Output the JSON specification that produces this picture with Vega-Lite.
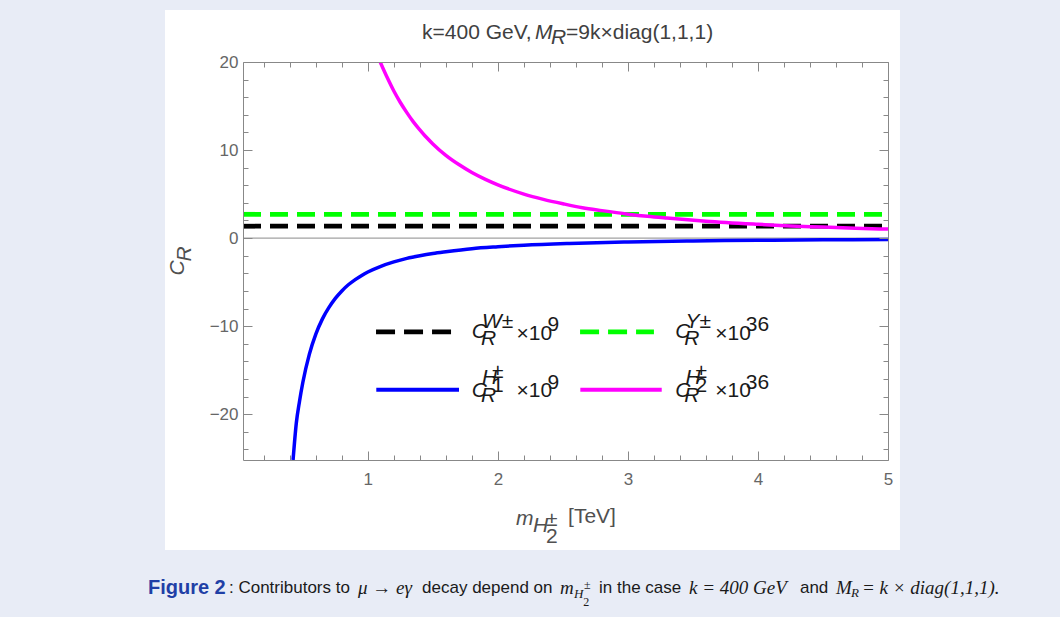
{
  "$schema": "https://vega.github.io/schema/vega-lite/v6.json",
  "width": 645,
  "height": 398,
  "autosize": {"type": "none"},
  "padding": {"left": 243, "top": 62, "right": 172, "bottom": 157},
  "background": "#e8ecf6",
  "config": {"view": {"stroke": null}, "axis": {"grid": false}},
  "datasets": {
    "panel": [{"x1": -0.56, "x2": 5.092, "y1": 25.906, "y2": -35.42}],
    "zero": [{"x1": 0.04, "x2": 5, "y": 0}],
    "curves": [
      {"series": "W", "m": 0.04, "v": 1.35}, {"series": "W", "m": 5, "v": 1.35},
      {"series": "Y", "m": 0.04, "v": 2.7}, {"series": "Y", "m": 5, "v": 2.7},
      {"series": "H1", "m": 0.425, "v": -25.2}, {"series": "H1", "m": 0.45, "v": -21.0},
      {"series": "H1", "m": 0.475, "v": -18.5}, {"series": "H1", "m": 0.5, "v": -16.4},
      {"series": "H1", "m": 0.55, "v": -13.2}, {"series": "H1", "m": 0.6, "v": -10.9},
      {"series": "H1", "m": 0.65, "v": -9.2}, {"series": "H1", "m": 0.7, "v": -7.9},
      {"series": "H1", "m": 0.75, "v": -6.85}, {"series": "H1", "m": 0.8, "v": -6.0},
      {"series": "H1", "m": 0.85, "v": -5.3}, {"series": "H1", "m": 0.9, "v": -4.75},
      {"series": "H1", "m": 0.95, "v": -4.27}, {"series": "H1", "m": 1.0, "v": -3.85},
      {"series": "H1", "m": 1.1, "v": -3.2}, {"series": "H1", "m": 1.2, "v": -2.7},
      {"series": "H1", "m": 1.3, "v": -2.3}, {"series": "H1", "m": 1.4, "v": -2.0},
      {"series": "H1", "m": 1.5, "v": -1.75}, {"series": "H1", "m": 1.6, "v": -1.55},
      {"series": "H1", "m": 1.8, "v": -1.2}, {"series": "H1", "m": 2.0, "v": -0.98},
      {"series": "H1", "m": 2.2, "v": -0.8}, {"series": "H1", "m": 2.55, "v": -0.6},
      {"series": "H1", "m": 3.0, "v": -0.44}, {"series": "H1", "m": 3.5, "v": -0.32},
      {"series": "H1", "m": 4.0, "v": -0.25}, {"series": "H1", "m": 4.5, "v": -0.2},
      {"series": "H1", "m": 5.0, "v": -0.16},
      {"series": "H2", "m": 1.095, "v": 20.0}, {"series": "H2", "m": 1.15, "v": 18.2},
      {"series": "H2", "m": 1.2, "v": 16.7}, {"series": "H2", "m": 1.25, "v": 15.4},
      {"series": "H2", "m": 1.3, "v": 14.25}, {"series": "H2", "m": 1.35, "v": 13.2},
      {"series": "H2", "m": 1.4, "v": 12.3}, {"series": "H2", "m": 1.45, "v": 11.45},
      {"series": "H2", "m": 1.5, "v": 10.7}, {"series": "H2", "m": 1.6, "v": 9.4},
      {"series": "H2", "m": 1.7, "v": 8.35}, {"series": "H2", "m": 1.8, "v": 7.45},
      {"series": "H2", "m": 1.9, "v": 6.7}, {"series": "H2", "m": 2.0, "v": 6.05},
      {"series": "H2", "m": 2.2, "v": 5.0}, {"series": "H2", "m": 2.35, "v": 4.4},
      {"series": "H2", "m": 2.5, "v": 3.9}, {"series": "H2", "m": 2.65, "v": 3.45},
      {"series": "H2", "m": 2.8, "v": 3.12}, {"series": "H2", "m": 3.0, "v": 2.72},
      {"series": "H2", "m": 3.15, "v": 2.47}, {"series": "H2", "m": 3.3, "v": 2.27},
      {"series": "H2", "m": 3.6, "v": 1.92}, {"series": "H2", "m": 4.0, "v": 1.57},
      {"series": "H2", "m": 4.25, "v": 1.38}, {"series": "H2", "m": 4.5, "v": 1.25},
      {"series": "H2", "m": 4.75, "v": 1.12}, {"series": "H2", "m": 5.0, "v": 1.02}
    ],
    "legend": [
      {"series": "W", "x1": 1.063, "x2": 1.64, "y": -10.66},
      {"series": "Y", "x1": 2.632, "x2": 3.2, "y": -10.66},
      {"series": "H1", "x1": 1.065, "x2": 1.701, "y": -17.22},
      {"series": "H2", "x1": 2.634, "x2": 3.26, "y": -17.22}
    ],
    "texts": [
      {"k": "tn", "t": "k=400 GeV,", "x": 1.417, "y": 23.29},
      {"k": "ti", "t": "M", "x": 2.286, "y": 23.29},
      {"k": "ts", "t": "R", "x": 2.409, "y": 22.7},
      {"k": "tn", "t": "=9k×diag(1,1,1)", "x": 2.524, "y": 23.29},
      {"k": "xi", "t": "m", "x": 2.139, "y": -31.9},
      {"k": "xs", "t": "H", "x": 2.27, "y": -32.7},
      {"k": "xn", "t": "±", "x": 2.37, "y": -32.02},
      {"k": "xn", "t": "2", "x": 2.37, "y": -33.95},
      {"k": "xt", "t": "[TeV]", "x": 2.54, "y": -31.68},
      {"k": "yi", "t": "C", "x": -0.46, "y": -3.4},
      {"k": "ys", "t": "R", "x": -0.406, "y": -1.81},
      {"k": "lc", "t": "C", "x": 1.8, "y": -10.66},
      {"k": "ls", "t": "R", "x": 1.87, "y": -11.46},
      {"k": "ls", "t": "W±", "x": 1.878, "y": -9.53},
      {"k": "ln", "t": "×10", "x": 2.144, "y": -10.86},
      {"k": "le", "t": "9", "x": 2.382, "y": -9.9},
      {"k": "lc", "t": "C", "x": 3.364, "y": -10.66},
      {"k": "ls", "t": "R", "x": 3.434, "y": -11.46},
      {"k": "ls", "t": "Y±", "x": 3.442, "y": -9.53},
      {"k": "ln", "t": "×10", "x": 3.672, "y": -10.86},
      {"k": "le", "t": "36", "x": 3.907, "y": -9.9},
      {"k": "lc", "t": "C", "x": 1.8, "y": -17.41},
      {"k": "ls", "t": "R", "x": 1.87, "y": -17.93},
      {"k": "ls", "t": "H", "x": 1.878, "y": -15.89},
      {"k": "le", "t": "±", "x": 1.955, "y": -15.21},
      {"k": "le", "t": "1", "x": 1.955, "y": -16.85},
      {"k": "ln", "t": "×10", "x": 2.144, "y": -17.32},
      {"k": "le", "t": "9", "x": 2.382, "y": -16.45},
      {"k": "lc", "t": "C", "x": 3.364, "y": -17.41},
      {"k": "ls", "t": "R", "x": 3.434, "y": -17.93},
      {"k": "ls", "t": "H", "x": 3.442, "y": -15.89},
      {"k": "le", "t": "±", "x": 3.519, "y": -15.21},
      {"k": "le", "t": "2", "x": 3.519, "y": -16.85},
      {"k": "ln", "t": "×10", "x": 3.672, "y": -17.32},
      {"k": "le", "t": "36", "x": 3.907, "y": -16.45},
      {"k": "cb", "t": "Figure 2", "x": -0.691, "y": -39.74},
      {"k": "cn", "t": ": Contributors to", "x": -0.068, "y": -39.74},
      {"k": "ci", "t": "μ → eγ", "x": 0.924, "y": -39.74},
      {"k": "cn", "t": "decay depend on", "x": 1.417, "y": -39.74},
      {"k": "ci", "t": "m", "x": 2.478, "y": -39.74},
      {"k": "cs", "t": "H", "x": 2.585, "y": -40.42},
      {"k": "csn", "t": "±", "x": 2.662, "y": -39.4},
      {"k": "csn", "t": "2", "x": 2.657, "y": -41.33},
      {"k": "cn", "t": "in the case", "x": 2.778, "y": -39.74},
      {"k": "ci", "t": "k = 400 GeV", "x": 3.47, "y": -39.74},
      {"k": "cn", "t": "and", "x": 4.323, "y": -39.74},
      {"k": "ci", "t": "M", "x": 4.6, "y": -39.74},
      {"k": "cs", "t": "R", "x": 4.715, "y": -40.31},
      {"k": "ci", "t": "= k × diag(1,1,1).", "x": 4.8, "y": -39.74}
    ]
  },
  "resolve": {"axis": {"x": "independent", "y": "independent"}},
  "layer": [
    {
      "data": {"name": "panel"},
      "mark": {"type": "rect", "fill": "#ffffff"},
      "encoding": {
        "x": {"field": "x1", "type": "quantitative", "axis": null},
        "x2": {"field": "x2"},
        "y": {"field": "y1", "type": "quantitative", "axis": null},
        "y2": {"field": "y2"}
      }
    },
    {
      "data": {"name": "zero"},
      "mark": {"type": "rule", "stroke": "#8a8a8a", "strokeWidth": 1},
      "encoding": {
        "x": {"field": "x1", "type": "quantitative", "axis": null},
        "x2": {"field": "x2"},
        "y": {"field": "y", "type": "quantitative", "axis": null}
      }
    },
    {
      "data": {"name": "curves"},
      "transform": [{"filter": "datum.series === 'W' || datum.series === 'Y'"}],
      "mark": {"type": "line", "strokeWidth": 4.8, "strokeDash": [18, 9], "clip": true},
      "encoding": {
        "x": {"field": "m", "type": "quantitative",
          "scale": {"domain": [0.04, 5], "nice": false, "zero": false},
          "axis": {"orient": "top", "title": null, "labels": false, "zindex": 1,
            "values": [0.2,0.4,0.6,0.8,1,1.2,1.4,1.6,1.8,2,2.2,2.4,2.6,2.8,3,3.2,3.4,3.6,3.8,4,4.2,4.4,4.6,4.8,5],
            "tickSize": {"condition": {"test": "datum.value % 1 === 0", "value": -9}, "value": -5},
            "domainColor": "#888888", "tickColor": "#888888", "grid": false}},
        "y": {"field": "v", "type": "quantitative",
          "scale": {"domain": [-25.2, 20], "nice": false, "zero": false},
          "axis": {"orient": "right", "title": null, "labels": false, "zindex": 1,
            "values": [-24,-22,-20,-18,-16,-14,-12,-10,-8,-6,-4,-2,0,2,4,6,8,10,12,14,16,18,20],
            "tickSize": {"condition": {"test": "datum.value % 10 === 0", "value": -9}, "value": -5},
            "domainColor": "#888888", "tickColor": "#888888", "grid": false}},
        "color": {"field": "series", "type": "nominal", "legend": null,
          "scale": {"domain": ["W","Y","H1","H2","tn","ti","ts","xi","xs","xn","xt","yi","ys","lc","ls","ln","le","cb","cn","ci","cs","csn"],
            "range": ["#000000","#00ff00","#0000ff","#ff00ff","#404040","#404040","#404040","#505050","#505050","#505050","#505050","#505050","#505050","#1a1a1a","#1a1a1a","#1a1a1a","#1a1a1a","#1f3fa6","#1a1a1a","#1a1a1a","#1a1a1a","#1a1a1a"]}}
      }
    },
    {
      "data": {"name": "curves"},
      "transform": [{"filter": "datum.series === 'H1' || datum.series === 'H2'"}],
      "mark": {"type": "line", "strokeWidth": 3.5, "clip": true, "interpolate": "monotone"},
      "encoding": {
        "x": {"field": "m", "type": "quantitative",
          "scale": {"domain": [0.04, 5], "nice": false, "zero": false},
          "axis": {"orient": "bottom", "title": null, "zindex": 1,
            "values": [0.2,0.4,0.6,0.8,1,1.2,1.4,1.6,1.8,2,2.2,2.4,2.6,2.8,3,3.2,3.4,3.6,3.8,4,4.2,4.4,4.6,4.8,5],
            "labelExpr": "datum.value % 1 === 0 ? format(datum.value, 'd') : ''",
            "tickSize": {"condition": {"test": "datum.value % 1 === 0", "value": -9}, "value": -5},
            "labelPadding": 20, "labelFontSize": 17, "labelFont": "Liberation Sans", "labelColor": "#666666",
            "labelFlush": false, "labelOverlap": false, "labelBound": false,
            "domainColor": "#888888", "tickColor": "#888888", "grid": false}},
        "y": {"field": "v", "type": "quantitative",
          "scale": {"domain": [-25.2, 20], "nice": false, "zero": false},
          "axis": {"orient": "left", "title": null, "zindex": 1,
            "values": [-24,-22,-20,-18,-16,-14,-12,-10,-8,-6,-4,-2,0,2,4,6,8,10,12,14,16,18,20],
            "labelExpr": "datum.value % 10 === 0 ? datum.label : ''",
            "tickSize": {"condition": {"test": "datum.value % 10 === 0", "value": -9}, "value": -5},
            "labelPadding": 14, "labelFontSize": 17, "labelFont": "Liberation Sans", "labelColor": "#666666",
            "labelFlush": false, "labelOverlap": false, "labelBound": false,
            "domainColor": "#888888", "tickColor": "#888888", "grid": false}},
        "color": {"field": "series", "type": "nominal", "legend": null}
      }
    },
    {
      "data": {"name": "legend"},
      "transform": [{"filter": "datum.series === 'W' || datum.series === 'Y'"}],
      "mark": {"type": "rule", "strokeWidth": 4.8, "strokeDash": [19, 9]},
      "encoding": {
        "x": {"field": "x1", "type": "quantitative", "axis": null},
        "x2": {"field": "x2"},
        "y": {"field": "y", "type": "quantitative", "axis": null},
        "color": {"field": "series", "type": "nominal", "legend": null}
      }
    },
    {
      "data": {"name": "legend"},
      "transform": [{"filter": "datum.series === 'H1' || datum.series === 'H2'"}],
      "mark": {"type": "rule", "strokeWidth": 4},
      "encoding": {
        "x": {"field": "x1", "type": "quantitative", "axis": null},
        "x2": {"field": "x2"},
        "y": {"field": "y", "type": "quantitative", "axis": null},
        "color": {"field": "series", "type": "nominal", "legend": null}
      }
    },
    {
      "data": {"name": "texts"},
      "transform": [{"filter": "indexof(['tn','xn','xt','ln','le'], datum.k) >= 0"}],
      "mark": {"type": "text", "font": "Liberation Sans", "align": "left", "baseline": "middle"},
      "encoding": {
        "x": {"field": "x", "type": "quantitative", "axis": null},
        "y": {"field": "y", "type": "quantitative", "axis": null},
        "text": {"field": "t"},
        "color": {"field": "k", "type": "nominal", "legend": null},
        "size": {"field": "k", "type": "nominal", "legend": null,
          "scale": {"domain": ["tn","ti","ts","xi","xs","xn","xt","yi","ys","lc","ls","ln","le"],
            "range": [21,21,14,19,13,11,18,19,13,17,12,15,12]}}
      }
    },
    {
      "data": {"name": "texts"},
      "transform": [{"filter": "indexof(['ti','ts','xi','xs','lc','ls'], datum.k) >= 0"}],
      "mark": {"type": "text", "font": "Liberation Sans", "fontStyle": "italic", "align": "left", "baseline": "middle"},
      "encoding": {
        "x": {"field": "x", "type": "quantitative", "axis": null},
        "y": {"field": "y", "type": "quantitative", "axis": null},
        "text": {"field": "t"},
        "color": {"field": "k", "type": "nominal", "legend": null},
        "size": {"field": "k", "type": "nominal", "legend": null}
      }
    },
    {
      "data": {"name": "texts"},
      "transform": [{"filter": "datum.k === 'yi' || datum.k === 'ys'"}],
      "mark": {"type": "text", "font": "Liberation Sans", "fontStyle": "italic", "align": "center", "baseline": "middle", "angle": 270},
      "encoding": {
        "x": {"field": "x", "type": "quantitative", "axis": null},
        "y": {"field": "y", "type": "quantitative", "axis": null},
        "text": {"field": "t"},
        "color": {"field": "k", "type": "nominal", "legend": null},
        "size": {"field": "k", "type": "nominal", "legend": null}
      }
    },
    {
      "data": {"name": "texts"},
      "transform": [{"filter": "datum.k === 'cb'"}],
      "mark": {"type": "text", "font": "Liberation Sans", "fontWeight": "bold", "fontSize": 20, "align": "left", "baseline": "middle"},
      "encoding": {
        "x": {"field": "x", "type": "quantitative", "axis": null},
        "y": {"field": "y", "type": "quantitative", "axis": null},
        "text": {"field": "t"},
        "color": {"field": "k", "type": "nominal", "legend": null}
      }
    },
    {
      "data": {"name": "texts"},
      "transform": [{"filter": "datum.k === 'cn'"}],
      "mark": {"type": "text", "font": "Liberation Sans", "fontSize": 17, "align": "left", "baseline": "middle"},
      "encoding": {
        "x": {"field": "x", "type": "quantitative", "axis": null},
        "y": {"field": "y", "type": "quantitative", "axis": null},
        "text": {"field": "t"},
        "color": {"field": "k", "type": "nominal", "legend": null}
      }
    },
    {
      "data": {"name": "texts"},
      "transform": [{"filter": "datum.k === 'ci'"}],
      "mark": {"type": "text", "font": "Liberation Serif", "fontStyle": "italic", "fontSize": 19, "align": "left", "baseline": "middle"},
      "encoding": {
        "x": {"field": "x", "type": "quantitative", "axis": null},
        "y": {"field": "y", "type": "quantitative", "axis": null},
        "text": {"field": "t"},
        "color": {"field": "k", "type": "nominal", "legend": null}
      }
    },
    {
      "data": {"name": "texts"},
      "transform": [{"filter": "datum.k === 'cs'"}],
      "mark": {"type": "text", "font": "Liberation Serif", "fontStyle": "italic", "fontSize": 13, "align": "left", "baseline": "middle"},
      "encoding": {
        "x": {"field": "x", "type": "quantitative", "axis": null},
        "y": {"field": "y", "type": "quantitative", "axis": null},
        "text": {"field": "t"},
        "color": {"field": "k", "type": "nominal", "legend": null}
      }
    },
    {
      "data": {"name": "texts"},
      "transform": [{"filter": "datum.k === 'csn'"}],
      "mark": {"type": "text", "font": "Liberation Serif", "fontSize": 12, "align": "left", "baseline": "middle"},
      "encoding": {
        "x": {"field": "x", "type": "quantitative", "axis": null},
        "y": {"field": "y", "type": "quantitative", "axis": null},
        "text": {"field": "t"},
        "color": {"field": "k", "type": "nominal", "legend": null}
      }
    }
  ]
}
